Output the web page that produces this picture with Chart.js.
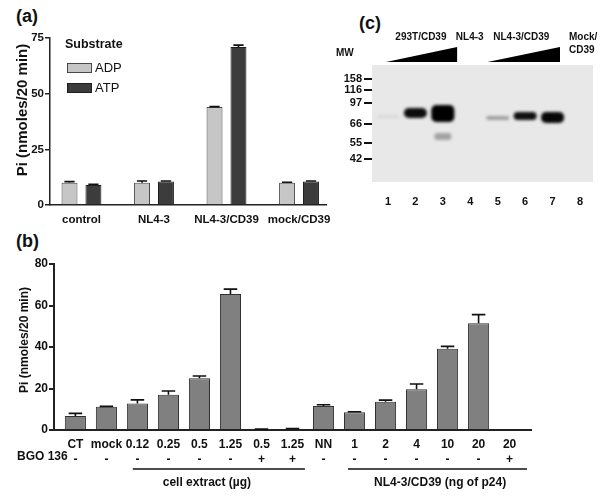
<!DOCTYPE html>
<html>
<head>
<meta charset="utf-8">
<script src="https://cdn.jsdelivr.net/npm/chart.js@4.4.0/dist/chart.umd.min.js"></script>
<style>
  body { margin: 0; background: #fff; width: 604px; height: 499px; position: relative; overflow: hidden;
         font-family: "Liberation Sans", Arial, sans-serif; color: #111; }
  canvas { position: absolute; }
  .tag { position: absolute; font-weight: bold; font-size: 18px; line-height: 18px; }
</style>
</head>
<body>
<div class="tag" style="left:16px;top:7px">(a)</div>
<div class="tag" style="left:16px;top:232px">(b)</div>
<div class="tag" style="left:359px;top:14px">(c)</div>
<canvas id="chartA" width="340" height="235" style="left:0;top:0"></canvas>
<canvas id="chartC" width="274" height="235" style="left:330px;top:0"></canvas>
<canvas id="chartB" width="604" height="264" style="left:0;top:235px"></canvas>
<script>
// ---- panel (a): nucleotidase activity by substrate
const groupsA = ['control', 'NL4-3', 'NL4-3/CD39', 'mock/CD39'];
const adpValues = [10, 10, 44, 10];
const adpErrors = [0.5, 0.8, 0.2, 0.2];
const atpValues = [9, 10.5, 71, 10.5];
const atpErrors = [0.3, 0.3, 0.8, 0.3];

// ---- panel (b): activity vs amount of extract / virus
const samplesB = ['CT', 'mock', '0.12', '0.25', '0.5', '1.25', '0.5', '1.25', 'NN', '1', '2', '4', '10', '20', '20'];
const bgoB = ['-', '-', '-', '-', '-', '-', '+', '+', '-', '-', '-', '-', '-', '-', '+'];
const piB = [6.7, 11.2, 12.8, 17.0, 25.0, 65.5, 0.3, 0.4, 11.6, 8.5, 13.6, 19.6, 39.2, 51.4, 0];
const errB = [1.3, 0.2, 1.7, 1.8, 1.0, 2.4, 0.1, 0.3, 0.6, 0.3, 0.8, 2.6, 1.1, 4.2, 0];
const groupLabelsB = ['cell extract (µg)', 'NL4-3/CD39 (ng of p24)'];

// ---- panel (c): western blot (migration in arbitrary units from top of gel)
const laneLabels = ['1', '2', '3', '4', '5', '6', '7', '8'];
const markerMW = ['158', '116', '97', '66', '55', '42'];
const markerPos = [14, 25, 38, 59, 78, 94];
const bandLanes = [1, 2, 3, 5, 6, 7];
const bandTop = [50, 43, 40, 51, 47, 47];
const bandBottom = [53, 53, 57, 55, 55, 58];
const bandSignal = [0.07, 0.95, 1.0, 0.32, 0.93, 0.97];
const minorLanes = [3];
const minorTop = [68];
const minorBottom = [75];
const minorSignal = [0.3];

Chart.defaults.font.family = '"Liberation Sans", Arial, sans-serif';
Chart.defaults.color = '#111';

const boldFont = (size) => ({ family: Chart.defaults.font.family, size: size, weight: 'bold' });

function drawText(ctx, text, x, y, font, align, rotate) {
    ctx.save();
    ctx.font = font;
    ctx.fillStyle = '#111';
    ctx.textAlign = align || 'center';
    ctx.textBaseline = 'middle';
    ctx.translate(x, y);
    if (rotate) ctx.rotate(rotate);
    ctx.fillText(text, 0, 0);
    ctx.restore();
}

function shade(signal) {
    const g = Math.round(232 * (1 - signal));
    return `rgb(${g},${g},${g})`;
}

// error bars (upper half only, like the original)
const errorBars = {
    id: 'errorBars',
    afterDatasetsDraw(chart) {
        const ctx = chart.ctx;
        const yScale = chart.scales.y;
        chart.data.datasets.forEach((ds, i) => {
            if (!ds.errors) return;
            chart.getDatasetMeta(i).data.forEach((bar, j) => {
                const err = ds.errors[j];
                if (!err) return;
                const top = yScale.getPixelForValue(ds.data[j].y + err);
                const half = bar.width * 0.32;
                ctx.save();
                ctx.strokeStyle = '#111';
                ctx.lineWidth = 1.6;
                ctx.beginPath();
                ctx.moveTo(bar.x, bar.y);
                ctx.lineTo(bar.x, top);
                ctx.moveTo(bar.x - half, top);
                ctx.lineTo(bar.x + half, top);
                ctx.stroke();
                ctx.restore();
            });
        });
    }
};

// legend + axis title for panel (a)
const decorA = {
    id: 'decorA',
    afterDraw(chart) {
        const ctx = chart.ctx;
        drawText(ctx, 'Substrate', 65, 45, 'bold 12.5px "Liberation Sans"', 'left');
        chart.data.datasets.forEach((ds, i) => {
            const y = 63 + i * 20;
            ctx.save();
            ctx.fillStyle = ds.backgroundColor;
            ctx.strokeStyle = ds.borderColor;
            ctx.lineWidth = 1;
            ctx.fillRect(67.5, y + 0.5, 24, 9);
            ctx.strokeRect(67.5, y + 0.5, 24, 9);
            ctx.restore();
            drawText(ctx, ds.label, 95, y + 5, '13px "Liberation Sans"', 'left');
        });
        drawText(ctx, 'Pi (nmoles/20 min)', 23, 110, 'bold 15px "Liberation Sans"', 'center', -Math.PI / 2);
    }
};

new Chart(document.getElementById('chartA'), {
    type: 'bar',
    data: {
        datasets: [
            {
                label: 'ADP',
                data: adpValues.map((v, i) => ({ x: i, y: v })),
                errors: adpErrors,
                backgroundColor: '#c6c6c6',
                borderColor: '#4a4a4a',
                borderWidth: 1
            },
            {
                label: 'ATP',
                data: atpValues.map((v, i) => ({ x: i, y: v })),
                errors: atpErrors,
                backgroundColor: '#3c3c3c',
                borderColor: '#1e1e1e',
                borderWidth: 1
            }
        ]
    },
    options: {
        responsive: false,
        animation: false,
        layout: { padding: { left: 10, top: 38, right: 14, bottom: 0 } },
        datasets: { bar: { categoryPercentage: 0.66, barPercentage: 0.667 } },
        plugins: { legend: { display: false }, tooltip: { enabled: false } },
        scales: {
            x: {
                type: 'linear', min: -0.434, max: 3.372, offset: false,
                grid: { display: false, offset: false },
                border: { color: '#222', width: 1.5 },
                ticks: {
                    stepSize: 1, includeBounds: false, autoSkip: false, maxRotation: 0,
                    padding: 0, font: boldFont(11.5), color: '#111',
                    callback: (v) => groupsA[v] ?? ''
                },
                afterFit: (s) => { s.height = 30; }
            },
            y: {
                min: 0, max: 75,
                grid: { drawOnChartArea: false, color: '#222', tickLength: 5, lineWidth: 1.5 },
                border: { color: '#222', width: 1.5 },
                ticks: { stepSize: 25, padding: 1, font: boldFont(11.5), color: '#111' },
                afterFit: (s) => { s.width = 40; }
            }
        }
    },
    plugins: [errorBars, decorA]
});

// panel (b) extra rows: BGO label, group brackets, y title
const decorB = {
    id: 'decorB',
    afterDraw(chart) {
        const ctx = chart.ctx;
        const x = chart.scales.x;
        drawText(ctx, 'BGO 136', 17, 222, 'bold 12px "Liberation Sans"', 'left');
        const spans = [[1.85, 7.4, 4.24], [8.79, 14.56, 11.76]];
        spans.forEach((s, i) => {
            ctx.save();
            ctx.strokeStyle = '#111';
            ctx.lineWidth = 1.5;
            ctx.beginPath();
            ctx.moveTo(x.getPixelForValue(s[0]), 234);
            ctx.lineTo(x.getPixelForValue(s[1]), 234);
            ctx.stroke();
            ctx.restore();
            drawText(ctx, groupLabelsB[i], x.getPixelForValue(s[2]), 248, 'bold 12px "Liberation Sans"', 'center');
        });
        drawText(ctx, 'Pi (nmoles/20 min)', 25, 105, 'bold 12px "Liberation Sans"', 'center', -Math.PI / 2);
    }
};

new Chart(document.getElementById('chartB'), {
    type: 'bar',
    data: {
        datasets: [{
            label: 'Pi',
            data: piB.map((v, i) => ({ x: i, y: v })),
            errors: errB,
            backgroundColor: '#808080',
            borderColor: '#303030',
            borderWidth: 1
        }]
    },
    options: {
        responsive: false,
        animation: false,
        layout: { padding: { left: 14, top: 29, right: 73, bottom: 0 } },
        datasets: { bar: { categoryPercentage: 1, barPercentage: 0.68 } },
        plugins: { legend: { display: false }, tooltip: { enabled: false } },
        scales: {
            x: {
                type: 'linear', min: -0.69, max: 14.69, offset: false,
                grid: { display: false, offset: false },
                border: { color: '#222', width: 2 },
                ticks: {
                    stepSize: 1, includeBounds: false, autoSkip: false, maxRotation: 0,
                    padding: -1, font: { ...boldFont(12), lineHeight: 1.25 }, color: '#111',
                    callback: (v) => (samplesB[v] !== undefined ? [samplesB[v], bgoB[v]] : '')
                },
                afterFit: (s) => { s.height = 69; }
            },
            y: {
                min: 0, max: 80,
                grid: { drawOnChartArea: false, color: '#222', tickLength: 5, lineWidth: 2 },
                border: { color: '#222', width: 2 },
                ticks: { stepSize: 20, padding: 1, font: boldFont(12), color: '#111' },
                afterFit: (s) => { s.width = 40; }
            }
        }
    },
    plugins: [errorBars, decorB]
});

// panel (c): blot background, soft bands, lane header with wedges
const blot = {
    id: 'blot',
    beforeDatasetsDraw(chart) {
        const { ctx, chartArea: a } = chart;
        ctx.save();
        ctx.fillStyle = '#e8e8e8';
        ctx.fillRect(a.left, a.top, a.right - a.left, a.bottom - a.top);
        ctx.restore();
        ctx.save();
        ctx.filter = 'blur(1.6px)';
    },
    afterDatasetsDraw(chart) {
        chart.ctx.restore();
    },
    afterDraw(chart) {
        const ctx = chart.ctx;
        const x = chart.scales.x;
        const f = 'bold 10px "Liberation Sans"';
        drawText(ctx, 'MW', 6, 53, f, 'left');
        drawText(ctx, '293T/CD39', x.getPixelForValue(2.2), 37, f);
        drawText(ctx, 'NL4-3', x.getPixelForValue(3.98), 37, f);
        drawText(ctx, 'NL4-3/CD39', x.getPixelForValue(5.86), 37, f);
        drawText(ctx, 'Mock/', x.getPixelForValue(7.6), 37, f, 'left');
        drawText(ctx, 'CD39', x.getPixelForValue(7.6), 50, f, 'left');
        const wedges = [[0.93, 3.52], [4.63, 7.27]];
        ctx.save();
        ctx.fillStyle = '#000';
        wedges.forEach((w) => {
            const x0 = x.getPixelForValue(w[0]);
            const x1 = x.getPixelForValue(w[1]);
            ctx.beginPath();
            ctx.moveTo(x0, 62);
            ctx.lineTo(x1, 47);
            ctx.lineTo(x1, 62);
            ctx.closePath();
            ctx.fill();
        });
        ctx.restore();
    }
};

new Chart(document.getElementById('chartC'), {
    type: 'bar',
    data: {
        datasets: [
            {
                label: 'CD39',
                data: bandLanes.map((l, i) => ({ x: l, y: [bandTop[i], bandBottom[i]] })),
                backgroundColor: bandSignal.map(shade),
                borderWidth: 0,
                borderRadius: 5,
                borderSkipped: false,
                grouped: false,
                barPercentage: 0.84,
                categoryPercentage: 1
            },
            {
                label: 'minor',
                data: minorLanes.map((l, i) => ({ x: l, y: [minorTop[i], minorBottom[i]] })),
                backgroundColor: minorSignal.map(shade),
                borderWidth: 0,
                borderRadius: 3,
                borderSkipped: false,
                grouped: false,
                barPercentage: 0.62,
                categoryPercentage: 1
            }
        ]
    },
    options: {
        responsive: false,
        animation: false,
        layout: { padding: { left: 0, top: 65, right: 11, bottom: 0 } },
        plugins: { legend: { display: false }, tooltip: { enabled: false } },
        scales: {
            x: {
                type: 'linear', min: 0.417, max: 8.474, offset: false,
                grid: { display: false, offset: false },
                border: { display: false },
                ticks: {
                    stepSize: 1, includeBounds: false, autoSkip: false, maxRotation: 0,
                    padding: 5, font: boldFont(11), color: '#111',
                    callback: (v) => laneLabels[v - 1] ?? ''
                },
                afterFit: (s) => { s.height = 53; }
            },
            y: {
                reverse: true, min: 0, max: 117,
                afterBuildTicks: (s) => { s.ticks = markerPos.map((v) => ({ value: v })); },
                grid: { drawOnChartArea: false, color: '#111', tickLength: 8, lineWidth: 2 },
                border: { display: false },
                ticks: {
                    padding: 2, font: boldFont(11), color: '#111',
                    callback: (v) => markerMW[markerPos.indexOf(v)] ?? ''
                },
                afterFit: (s) => { s.width = 42; }
            }
        }
    },
    plugins: [blot]
});
</script>
</body>
</html>
